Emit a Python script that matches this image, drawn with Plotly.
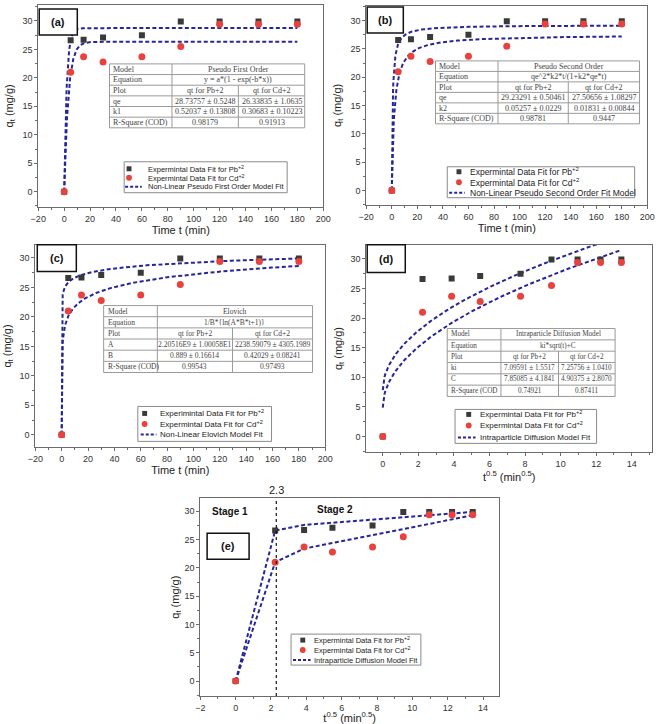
import numpy as np
import plotly.graph_objects as go

W, H = 669, 724

# ---------------- data ----------------
t_min = [0, 5, 15, 30, 60, 90, 120, 150, 180]
qt_pb = [0, 26.6, 26.7, 27.1, 27.5, 29.9, 29.9, 29.9, 29.9]
qt_cd = [0, 21.0, 23.7, 22.8, 23.7, 25.5, 29.4, 29.4, 29.4]
t_sqrt = list(np.sqrt(t_min))

# fitted parameters (from the tables) [Pb, Cd]
pfo_qe = [28.73757, 26.33835]
pfo_k1 = [0.52037, 0.30683]
pso_qe = [29.23291, 27.50656]
pso_k2 = [0.05257, 0.01831]
elo_A = [2.20516e9, 2238.59079]
elo_B = [0.889, 0.42029]
ipd_ki = [7.09591, 7.25756]
ipd_C = [7.85085, 4.90375]

# multi-stage (e) fit line vertices
stage_x = [0, 2.236, 3.873, 13.416]
stage_pb = [0, 26.6, 27.6, 29.9]
stage_cd = [0, 21.0, 23.4, 29.3]
stage_break = 2.3

# tables
plot_row = ["Plot", "qt for Pb+2", "qt for Cd+2"]
table_a = ["Pseudo First Order", "y = a*(1 - exp(-b*x))",
           [["qe", "28.73757 ± 0.5248", "26.33835 ± 1.0635"],
            ["k1", "0.52037 ± 0.13808", "0.30683 ± 0.10223"],
            ["R-Square (COD)", "0.98179", "0.91913"]]]
table_b = ["Pseudo Second Order", "qe^2*k2*t/(1+k2*qe*t)",
           [["qe", "29.23291 ± 0.50461", "27.50656 ± 1.08297"],
            ["k2", "0.05257 ± 0.0229", "0.01831 ± 0.00844"],
            ["R-Square (COD)", "0.98781", "0.9447"]]]
table_c = ["Elovich", "1/B*{ln(A*B*t+1)}",
           [["A", "2.20516E9 ± 1.00058E1", "2238.59079 ± 4305.1989"],
            ["B", "0.889 ± 0.16614", "0.42029 ± 0.08241"],
            ["R-Square (COD)", "0.99543", "0.97493"]]]
table_d = ["Intraparticle Diffusion Model", "ki*sqrt(t)+C",
           [["ki", "7.09591 ± 1.5517", "7.25756 ± 1.0410"],
            ["C", "7.85085 ± 4.1841", "4.90375 ± 2.8070"],
            ["R-Square (COD", "0.74921", "0.87411"]]]

leg_pb = "Expermintal Data Fit for Pb<sup>+2</sup>"
leg_pb_c = "Experimintal Data Fit for Pb<sup>+2</sup>"
leg_cd = "Expermintal Data Fit for Cd<sup>+2</sup>"
fit_names = ["Non-Linear Pseudo First Order Model Fit",
             "Non-Linear Pseudo Second Order Fit Model",
             "Non-Linear Elovich Model Fit",
             "Intraparticle Diffusion Model Fit",
             "Intraparticle Diffusion Model Fit"]

# ---------------- style ----------------
PB_COL = "#3a3a3a"
CD_COL = "#e8423f"
FIT_COL = "#26269a"
FRAME = "#6b6b6b"
DASH = "4px,2.5px"
SANS = "Liberation Sans, Arial, sans-serif"
SERIF = "Liberation Serif, Times New Roman, serif"


def X(px):
    return px / W


def Y(py):
    return 1 - py / H


fig = go.Figure()

# model curves
t_fit = np.linspace(0, 180, 721)
s_fit = np.linspace(0, max(t_sqrt), 400)
curves = {
    1: [pfo_qe[i] * (1 - np.exp(-pfo_k1[i] * t_fit)) for i in range(2)],
    2: [pso_qe[i] ** 2 * pso_k2[i] * t_fit / (1 + pso_k2[i] * pso_qe[i] * t_fit) for i in range(2)],
    3: [1 / elo_B[i] * np.log(elo_A[i] * elo_B[i] * t_fit + 1) for i in range(2)],
    4: [ipd_ki[i] * np.sqrt(s_fit) + ipd_C[i] for i in range(2)],
}

for k in range(1, 6):
    xa = "x" if k == 1 else f"x{k}"
    ya = "y" if k == 1 else f"y{k}"
    if k <= 3:
        xs_fit, xs_pts = t_fit, t_min
    else:
        xs_fit, xs_pts = s_fit, t_sqrt
    if k <= 4:
        for c in curves[k]:
            fig.add_trace(go.Scatter(x=xs_fit, y=c, mode="lines", xaxis=xa, yaxis=ya,
                                     line=dict(color=FIT_COL, width=2, dash=DASH),
                                     name=fit_names[k - 1], showlegend=False, hoverinfo="skip"))
    else:
        for sy in (stage_pb, stage_cd):
            fig.add_trace(go.Scatter(x=stage_x, y=sy, mode="lines", xaxis=xa, yaxis=ya,
                                     line=dict(color=FIT_COL, width=2, dash=DASH),
                                     name=fit_names[4], showlegend=False))
    fig.add_trace(go.Scatter(x=xs_pts, y=qt_pb, mode="markers", xaxis=xa, yaxis=ya,
                             marker=dict(symbol="square", size=6, color=PB_COL),
                             name="Pb+2", showlegend=False))
    fig.add_trace(go.Scatter(x=xs_pts, y=qt_cd, mode="markers", xaxis=xa, yaxis=ya,
                             marker=dict(symbol="circle", size=7, color=CD_COL),
                             name="Cd+2", showlegend=False))

# panel geometry (pixels) and ranges
panels = {
    1: dict(px=(31, 323), py=(5, 207), xr=[-20, 200], yr=[-2.63, 32.8], xd=20, xt="Time t (min)", ys=6),
    2: dict(px=(367, 655), py=(6, 205), xr=[-20, 200], yr=[-2.52, 32.6], xd=20, xt="Time t (min)", ys=6),
    3: dict(px=(28, 325), py=(245, 448), xr=[-20, 200], yr=[-2.13, 32.25], xd=20, xt="Time t (min)", ys=5),
    4: dict(px=(367, 660), py=(245, 453), xr=[-0.93, 15.15], yr=[-2.67, 32.4], xd=2,
            xt="t<sup>0.5</sup> (min<sup>0.5</sup>)", ys=5),
    5: dict(px=(197, 503), py=(499, 697), xr=[-2, 14.9], yr=[-2.65, 32.3], xd=2,
            xt="t<sup>0.5</sup> (min<sup>0.5</sup>)", ys=2),
}

layout = dict(width=W, height=H, margin=dict(l=0, r=0, t=0, b=0),
              paper_bgcolor="white", plot_bgcolor="white", showlegend=False,
              font=dict(family=SANS, color="#333"))
for k, p in panels.items():
    xk = "xaxis" if k == 1 else f"xaxis{k}"
    yk = "yaxis" if k == 1 else f"yaxis{k}"
    xa = "x" if k == 1 else f"x{k}"
    ya = "y" if k == 1 else f"y{k}"
    layout[xk] = dict(domain=[X(p["px"][0]), X(p["px"][1])], range=p["xr"], anchor=ya,
                      dtick=p["xd"], tick0=0, showgrid=False, zeroline=False,
                      showline=True, mirror=True, linecolor=FRAME, linewidth=1,
                      ticks="outside", ticklen=3, tickcolor=FRAME,
                      minor=dict(ticks="outside", ticklen=2, dtick=p["xd"] / 2, tickcolor=FRAME),
                      tickfont=dict(size=9, color="#333"),
                      title=dict(text=p["xt"], font=dict(size=11, color="#222"), standoff=3))
    layout[yk] = dict(domain=[Y(p["py"][1]), Y(p["py"][0])], range=p["yr"], anchor=xa,
                      dtick=5, tick0=0, showgrid=False, zeroline=False,
                      showline=True, mirror=True, linecolor=FRAME, linewidth=1,
                      ticks="outside", ticklen=3, tickcolor=FRAME,
                      minor=dict(ticks="outside", ticklen=2, dtick=2.5, tickcolor=FRAME),
                      tickfont=dict(size=9, color="#333"),
                      title=dict(text="q<sub>t</sub> (mg/g)", font=dict(size=11, color="#222"),
                                 standoff=p["ys"]))

shapes = []
annotations = []


def draw_table(spec, x0, y0, x1, y1, c1, c2, fs):
    title, eq, rows = spec
    n = 6
    rh = (y1 - y0) / n
    line = dict(color="#9a9a9a", width=1)
    shapes.append(dict(type="rect", xref="paper", yref="paper", x0=X(x0), x1=X(x1),
                       y0=Y(y1), y1=Y(y0), line=line, fillcolor="white", layer="above"))
    for r in range(1, n):
        yy = y0 + r * rh
        shapes.append(dict(type="line", xref="paper", yref="paper", x0=X(x0), x1=X(x1),
                           y0=Y(yy), y1=Y(yy), line=line, layer="above"))
    shapes.append(dict(type="line", xref="paper", yref="paper", x0=X(c1), x1=X(c1),
                       y0=Y(y1), y1=Y(y0), line=line, layer="above"))
    shapes.append(dict(type="line", xref="paper", yref="paper", x0=X(c2), x1=X(c2),
                       y0=Y(y1), y1=Y(y0 + 2 * rh), line=line, layer="above"))
    all_rows = [["Model", title], ["Equation", eq], plot_row] + rows
    f = dict(family=SERIF, size=fs, color="#444")
    for r, row in enumerate(all_rows):
        yc = y0 + (r + 0.5) * rh
        annotations.append(dict(xref="paper", yref="paper", x=X(x0 + 2), y=Y(yc), text=row[0],
                                showarrow=False, xanchor="left", yanchor="middle", font=f))
        if len(row) == 2:
            annotations.append(dict(xref="paper", yref="paper", x=X((c1 + x1) / 2), y=Y(yc),
                                    text=row[1], showarrow=False, xanchor="center",
                                    yanchor="middle", font=f))
        else:
            annotations.append(dict(xref="paper", yref="paper", x=X((c1 + c2) / 2), y=Y(yc),
                                    text=row[1], showarrow=False, xanchor="center",
                                    yanchor="middle", font=f))
            annotations.append(dict(xref="paper", yref="paper", x=X((c2 + x1) / 2), y=Y(yc),
                                    text=row[2], showarrow=False, xanchor="center",
                                    yanchor="middle", font=f))


draw_table(table_a, 104, 64, 304, 128, 168, 236, 8)
draw_table(table_b, 438, 61, 647, 124, 502, 574, 8)
draw_table(table_c, 98, 306, 312, 373, 153, 230, 7.5)
draw_table(table_d, 450, 329, 622, 397, 505, 564, 7.2)


def draw_legend(box, rows_y, mx, dash_x, tx, fs, labels):
    bx0, by0, bx1, by1 = box
    shapes.append(dict(type="rect", xref="paper", yref="paper", x0=X(bx0), x1=X(bx1),
                       y0=Y(by1), y1=Y(by0), line=dict(color="#8a8a8a", width=1),
                       fillcolor="white", layer="above"))
    s = 2.5
    shapes.append(dict(type="rect", xref="paper", yref="paper", x0=X(mx - s), x1=X(mx + s),
                       y0=Y(rows_y[0] + s), y1=Y(rows_y[0] - s), line=dict(width=0),
                       fillcolor=PB_COL, layer="above"))
    s = 3
    shapes.append(dict(type="circle", xref="paper", yref="paper", x0=X(mx - s), x1=X(mx + s),
                       y0=Y(rows_y[1] + s), y1=Y(rows_y[1] - s), line=dict(width=0),
                       fillcolor=CD_COL, layer="above"))
    shapes.append(dict(type="line", xref="paper", yref="paper", x0=X(dash_x[0]), x1=X(dash_x[1]),
                       y0=Y(rows_y[2]), y1=Y(rows_y[2]),
                       line=dict(color=FIT_COL, width=2, dash="3px,2px"), layer="above"))
    for ry, lab in zip(rows_y, labels):
        annotations.append(dict(xref="paper", yref="paper", x=X(tx), y=Y(ry), text=lab,
                                showarrow=False, xanchor="left", yanchor="middle",
                                font=dict(family=SANS, size=fs, color="#222")))


draw_legend((119, 162, 286, 193), [169, 178, 187], 124, (120, 137), 141, 7.5,
            [leg_pb, leg_cd, fit_names[0]])
draw_legend((450, 167, 642, 198), [172, 182.5, 193], 462, (452, 468), 471, 8.5,
            [leg_pb, leg_cd, fit_names[1]])
draw_legend((133, 407, 270, 442), [414, 424.5, 435], 140, (136, 152), 154, 8,
            [leg_pb_c, leg_cd, fit_names[2]])
draw_legend((458, 410, 603, 444), [415, 426, 438], 472, (461, 479), 482, 8,
            [leg_pb, leg_cd, fit_names[3]])
draw_legend((290, 635, 423, 666), [641, 651, 661], 302, (292, 310), 311, 7.5,
            [leg_pb, leg_cd, fit_names[4]])

# panel label boxes
for lab, (x0, y0, x1, y1) in {"(a)": (32, 9, 71, 35), "(b)": (368, 7, 405, 33),
                              "(c)": (30, 245, 70, 272), "(d)": (368, 245, 407, 273),
                              "(e)": (204, 534, 247, 560)}.items():
    shapes.append(dict(type="rect", xref="paper", yref="paper", x0=X(x0), x1=X(x1),
                       y0=Y(y1), y1=Y(y0), line=dict(color="#111", width=1.5),
                       fillcolor="white", layer="above"))
    annotations.append(dict(xref="paper", yref="paper", x=X((x0 + x1) / 2), y=Y((y0 + y1) / 2),
                            text=f"<b>{lab}</b>", showarrow=False, xanchor="center",
                            yanchor="middle", font=dict(family=SANS, size=11, color="#111")))

# panel (e) stage marker
shapes.append(dict(type="line", xref="x5", yref="paper", x0=stage_break, x1=stage_break,
                   y0=Y(697), y1=Y(499), line=dict(color="#111", width=1.2, dash="dot")))
annotations.append(dict(xref="x5", yref="paper", x=stage_break, y=Y(499), text=str(stage_break),
                        showarrow=False, xanchor="center", yanchor="bottom",
                        font=dict(family=SANS, size=11, color="#222")))
annotations.append(dict(xref="x5", yref="y5", x=-0.3, y=30, text="<b>Stage 1</b>",
                        showarrow=False, xanchor="center", yanchor="middle",
                        font=dict(family=SANS, size=10, color="#111")))
annotations.append(dict(xref="x5", yref="y5", x=5.6, y=30.3, text="<b>Stage 2</b>",
                        showarrow=False, xanchor="center", yanchor="middle",
                        font=dict(family=SANS, size=10, color="#111")))

layout["shapes"] = shapes
layout["annotations"] = annotations
fig.update_layout(**layout)
fig.write_html("out.html")
